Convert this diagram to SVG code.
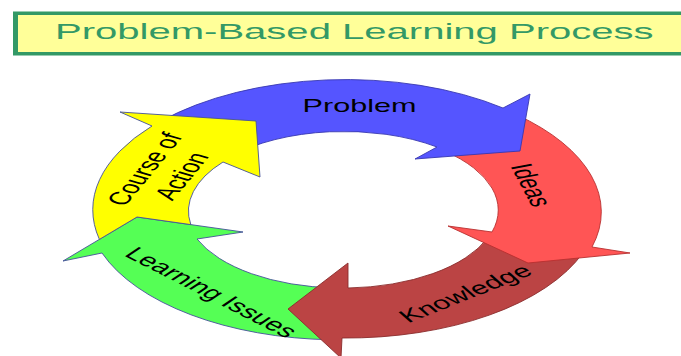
<svg xmlns="http://www.w3.org/2000/svg" width="681" height="356" viewBox="0 0 681 356">
  <style>
    .seg { stroke-width: 0.9; stroke-linejoin: miter; }
    .lbl { font-family: "Liberation Sans", Arial, sans-serif; font-size: 18px; fill: #000; text-anchor: middle; }
    .title { font-family: "Liberation Sans", Arial, sans-serif; font-size: 22px; fill: #339966; }
  </style>

  <rect width="681" height="356" fill="#ffffff"/>

  <!-- heading banner, runs off the right edge -->
  <g id="title">
    <rect x="13" y="11.5" width="690" height="44" fill="#339966"/>
    <rect x="18" y="15" width="690" height="37" fill="#FFFF99"/>
    <text class="title" transform="translate(55,39) scale(1.82,1)">Problem-Based Learning Process</text>
  </g>

  <!-- cycle of five curved arrows; each head overlaps the next arrow's tail -->
  <g id="cycle">
    <g id="learning-issues">
      <path class="seg" fill="#55FF55" stroke="#44509a"
            d="M331.8,339.8 A252,130 0 0 1 102,253 L63,261 L137,217 L243,232 L197,239 A155,78 0 0 0 334.9,287.9 Z"/>
      <text class="lbl" transform="translate(212,292) scale(1.7,1) rotate(41)" dy="0.36em">Learning Issues</text>
    </g>

    <g id="knowledge">
      <path class="seg" fill="#BB4444" stroke="#8a2c2c"
            d="M583.3,252.3 A252,130 0 0 1 342,338 L341,358 L288,309 L348,263 L348,288 A155,78 0 0 0 487.7,238 Z"/>
      <text class="lbl" transform="translate(465,293) scale(1.7,1) rotate(-33.8)" dy="0.36em">Knowledge</text>
    </g>

    <g id="ideas">
      <path class="seg" fill="#FF5555" stroke="#b83030"
            d="M516.9,114.9 A252,130 0 0 1 592,247 L630,253 L528,263 L448,226 L492,232 A155,78 0 0 0 444.7,151.1 Z"/>
      <text class="lbl" transform="translate(532,185) scale(1.7,1) rotate(72.6)" dy="0.36em">Ideas</text>
    </g>

    <g id="problem">
      <path class="seg" fill="#5555FF" stroke="#3838b0"
            d="M160.7,121.3 A252,130 0 0 1 503,108 L530,94 L520,151 L415,159 L437,147 A155,78 0 0 0 229.6,156.8 Z"/>
      <text class="lbl" transform="translate(359.5,105.7) scale(1.7,1)" dy="0.36em">Problem</text>
    </g>

    <!-- tail is notched along the Learning Issues head so that head stays in front -->
    <g id="course-of-action">
      <path class="seg" fill="#FFFF00" stroke="#44509a"
            d="M99.4,239.4 A252,130 0 0 1 152,126 L120,112 L256,121 L260,177 L223,162 A155,78 0 0 0 190.8,224.6 L137,217 Z"/>
      <text class="lbl" transform="translate(144,169) scale(1.7,1) rotate(-64)" dy="0.36em">Course of</text>
      <text class="lbl" transform="translate(181,176) scale(1.7,1) rotate(-64)" dy="0.36em">Action</text>
    </g>
  </g>
</svg>
